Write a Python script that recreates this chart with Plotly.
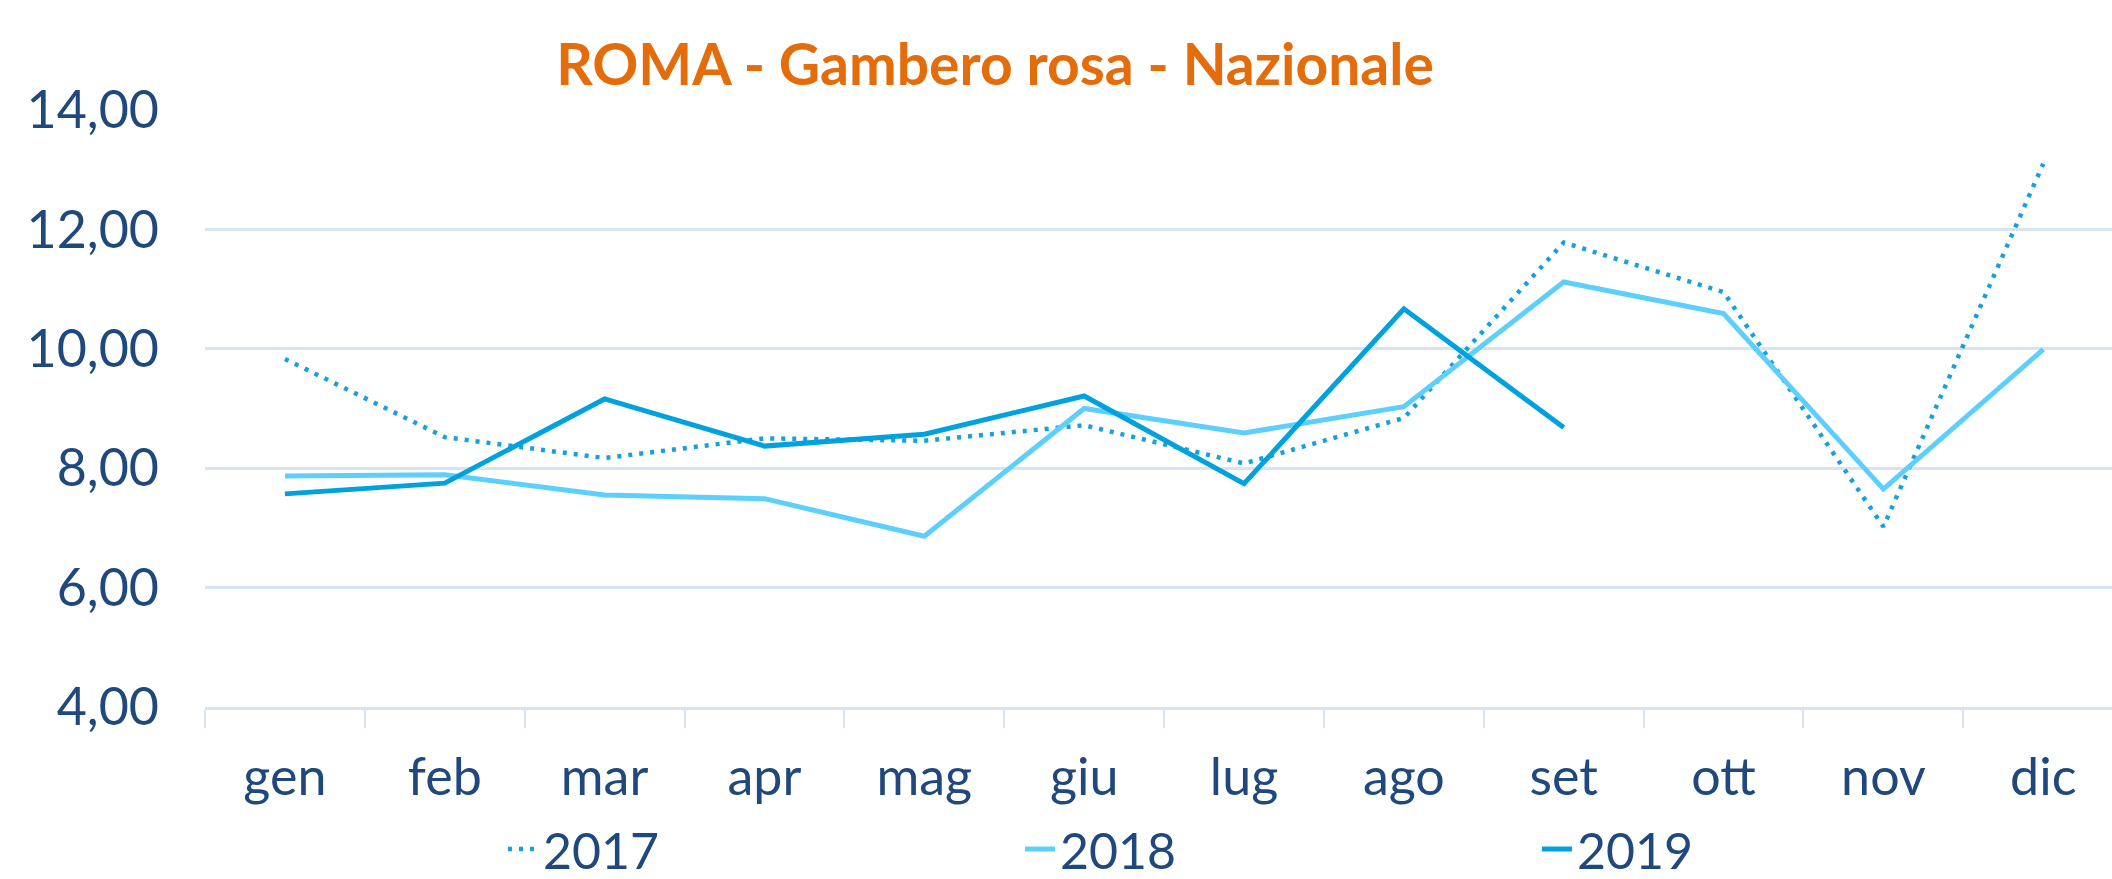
import plotly.graph_objects as go

months = ["gen", "feb", "mar", "apr", "mag", "giu", "lug", "ago", "set", "ott", "nov", "dic"]
v2017 = [9.83, 8.52, 8.17, 8.50, 8.46, 8.72, 8.08, 8.84, 11.78, 10.95, 7.02, 13.10]
v2018 = [7.87, 7.89, 7.55, 7.49, 6.86, 9.00, 8.59, 9.03, 11.12, 10.59, 7.65, 9.99]
v2019 = [7.57, 7.75, 9.16, 8.37, 8.57, 9.21, 7.74, 10.67, 8.68]

FONT = "Lato"
NAVY = "#1F497D"
GRID = "#D9E4F2"

fig = go.Figure()
fig.add_trace(go.Scatter(x=months, y=v2017, name="2017", mode="lines",
                         line=dict(color="#16A0DE", width=4.5, dash="4px,7px")))
fig.add_trace(go.Scatter(x=months, y=v2018, name="2018", mode="lines",
                         line=dict(color="#5CCFFC", width=5)))
fig.add_trace(go.Scatter(x=months[:len(v2019)], y=v2019, name="2019", mode="lines",
                         line=dict(color="#00A2DD", width=5)))

fig.update_layout(
    width=2112, height=879,
    margin=dict(l=205, r=0, t=110, b=172, autoexpand=False),
    plot_bgcolor="white", paper_bgcolor="white",
    separators=",.",
    font=dict(family=FONT, color=NAVY, size=52),
    title=dict(text="<b>ROMA - Gambero rosa - Nazionale</b>",
               font=dict(family=FONT, size=57, color="#E46C0A"),
               x=995/2112, xanchor="center", y=1-65/879, yanchor="middle"),
    showlegend=True,
    legend=dict(orientation="h", x=(503-205)/1907, xanchor="left",
                y=(707-849)/597, yanchor="middle",
                font=dict(family=FONT, size=50, color=NAVY),
                entrywidth=472, entrywidthmode="pixels",
                bgcolor="rgba(0,0,0,0)"),
)
fig.update_xaxes(type="category", range=[-0.5, 11.43],
                 showgrid=False, showline=True, linecolor=GRID, linewidth=3,
                 ticks="outside", tickson="boundaries", ticklen=18, tickcolor=GRID, tickwidth=2,
                 tickfont=dict(family=FONT, size=52, color=NAVY), ticklabelstandoff=23)
fig.update_yaxes(range=[4, 14], dtick=2, tickformat=".2f",
                 showgrid=True, gridcolor=GRID, gridwidth=3,
                 zeroline=False, showline=False, ticks="",
                 tickfont=dict(family=FONT, size=52, color=NAVY), ticklabelstandoff=45)

fig.write_html("out.html")
